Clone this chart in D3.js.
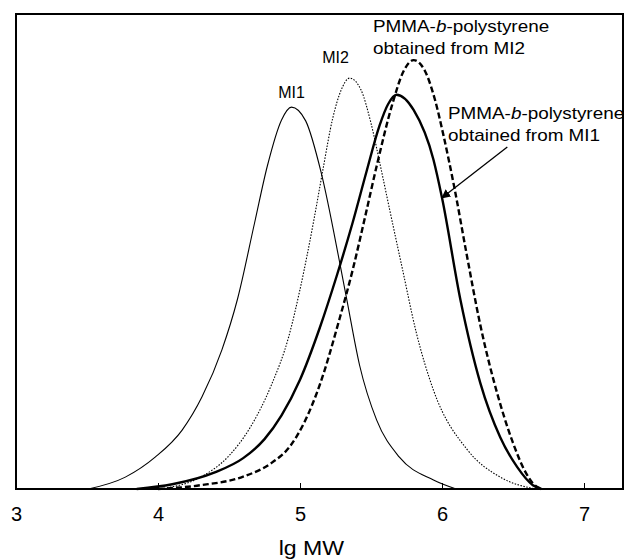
<!DOCTYPE html>
<html>
<head>
<meta charset="utf-8">
<script src="https://cdn.jsdelivr.net/npm/d3@7"></script>
<style>
  body { margin: 0; background: #fff; }
  text { font-family: "Liberation Sans", Arial, sans-serif; fill: #000; }
</style>
</head>
<body>
<svg id="chart" width="627" height="560"></svg>
<script>
// values (x = lg MW, y = relative intensity, 0..100)
var xTicks = [3, 4, 5, 6, 7];

var mi1X = [3.51, 3.77, 3.98, 4.17, 4.31, 4.45, 4.56, 4.68, 4.77, 4.87, 4.94, 5.04, 5.15, 5.28, 5.33, 5.42, 5.54, 5.70, 5.94, 6.1];
var mi1Y = [0, 2.5, 6.7, 12.4, 19.4, 29.3, 40, 56, 68, 77.7, 80.4, 77.5, 66.5, 47.6, 39.8, 26, 14.5, 6.7, 1.9, 0];

var mi2X = [4.0, 4.3, 4.5, 4.65, 4.8, 4.92, 5.0, 5.1, 5.16, 5.23, 5.29, 5.35, 5.43, 5.5, 5.57, 5.63, 5.72, 5.82, 5.94, 6.18, 6.41, 6.66];
var mi2Y = [0, 2.5, 7, 13, 22, 32, 42, 57, 67, 78, 84, 86.5, 84, 77, 67.5, 59, 46.5, 32.8, 20.8, 8.2, 2.5, 0];

var bcp1X = [3.85, 4.1, 4.4, 4.6, 4.75, 4.87, 5.0, 5.14, 5.26, 5.37, 5.47, 5.56, 5.62, 5.68, 5.80, 5.94, 6.0, 6.13, 6.27, 6.41, 6.53, 6.64, 6.7];
var bcp1Y = [0, 1, 3.5, 6.5, 10.5, 15.5, 23, 34, 45, 56, 67, 76.5, 81, 83, 79.8, 69.3, 61.3, 39.8, 22.3, 10.9, 4.6, 0.8, 0];

var bcp2X = [4.0, 4.3, 4.6, 4.8, 4.93, 5.03, 5.14, 5.28, 5.37, 5.46, 5.54, 5.65, 5.73, 5.80, 5.88, 5.95, 6.01, 6.09, 6.17, 6.27, 6.39, 6.50, 6.58, 6.64, 6.7];
var bcp2Y = [0, 0.8, 2.6, 5.5, 9, 14, 22, 36, 46, 57.5, 68, 81, 88, 90.3, 88, 82, 74.5, 63, 50, 34.5, 20, 9.7, 4, 1.2, 0];

var seriesNames = ["MI1", "MI2", "PMMA-b-polystyrene obtained from MI1", "PMMA-b-polystyrene obtained from MI2"];

var svg = d3.select("#chart");
var left = 16, right = 623, plotTop = 14, bottom = 489;

var x = d3.scaleLinear().domain([3, 3 + (right - left) / 142]).range([left, right]);
var y = d3.scaleLinear().domain([0, 100]).range([bottom, bottom - 475]);

function pts(xs, ys) {
    return xs.map(function (v, i) { return [v, ys[i]]; });
}

var line = d3.line()
    .x(function (d) { return x(d[0]); })
    .y(function (d) { return y(d[1]); })
    .curve(d3.curveMonotoneX);

var series = [
    { name: seriesNames[0], data: pts(mi1X, mi1Y), width: 1.1, dash: null },
    { name: seriesNames[1], data: pts(mi2X, mi2Y), width: 1.1, dash: "1.5,1.5" },
    { name: seriesNames[2], data: pts(bcp1X, bcp1Y), width: 2.4, dash: null },
    { name: seriesNames[3], data: pts(bcp2X, bcp2Y), width: 2.4, dash: "6,3" }
];

svg.selectAll(".curve")
    .data(series)
    .enter().append("path")
    .attr("class", "curve")
    .attr("d", function (d) { return line(d.data); })
    .attr("fill", "none")
    .attr("stroke", "#000")
    .attr("stroke-width", function (d) { return d.width; })
    .attr("stroke-dasharray", function (d) { return d.dash; });

// frame
svg.append("rect")
    .attr("x", left).attr("y", plotTop)
    .attr("width", right - left).attr("height", bottom - plotTop)
    .attr("fill", "none").attr("stroke", "#000").attr("stroke-width", 2);

// bottom axis, ticks pointing inward
var xAxis = svg.append("g")
    .attr("transform", "translate(0," + bottom + ")")
    .call(d3.axisBottom(x).tickValues(xTicks).tickFormat(d3.format("d"))
        .tickSizeInner(-6).tickSizeOuter(0).tickPadding(18));
xAxis.select(".domain").remove();
xAxis.selectAll("line").attr("stroke-width", 1);
xAxis.selectAll("text")
    .style("font-size", "20px")
    .style("font-family", "'Liberation Sans', Arial, sans-serif");

svg.append("text")
    .attr("transform", "translate(" + x(5.08) + ",555) scale(1.1,1)")
    .attr("text-anchor", "middle")
    .style("font-size", "21px")
    .text("lg MW");

// labels
function label(tx, ty, lines, anchor, sx) {
    var g = svg.append("g")
        .attr("transform", "translate(" + tx + "," + ty + ") scale(" + sx + ",1)");
    lines.forEach(function (l, i) {
        var t = g.append("text")
            .attr("y", i * 22)
            .attr("text-anchor", anchor)
            .style("font-size", "16px");
        l.forEach(function (part) {
            t.append("tspan")
                .style("font-style", part.i ? "italic" : null)
                .text(part.t);
        });
    });
}

label(x(4.94), 98, [[{ t: "MI1" }]], "middle", 1);
label(x(5.25), 63, [[{ t: "MI2" }]], "middle", 1);
label(373, 32, [[{ t: "PMMA-" }, { t: "b", i: true }, { t: "-polystyrene" }], [{ t: "obtained from MI2" }]], "start", 1.18);
label(448, 119, [[{ t: "PMMA-" }, { t: "b", i: true }, { t: "-polystyrene" }], [{ t: "obtained from MI1" }]], "start", 1.18);

// arrow
svg.append("defs").append("marker")
    .attr("id", "head")
    .attr("viewBox", "0 0 10 10")
    .attr("refX", 9).attr("refY", 5)
    .attr("markerWidth", 9).attr("markerHeight", 9)
    .attr("markerUnits", "userSpaceOnUse")
    .attr("orient", "auto")
    .append("path").attr("d", "M0,0 L10,5 L0,10 z").attr("fill", "#000");

svg.append("line")
    .attr("x1", x(6.46)).attr("y1", y(72))
    .attr("x2", x(6.0)).attr("y2", y(61.3))
    .attr("stroke", "#000").attr("stroke-width", 1.3)
    .attr("marker-end", "url(#head)");
</script>
</body>
</html>
